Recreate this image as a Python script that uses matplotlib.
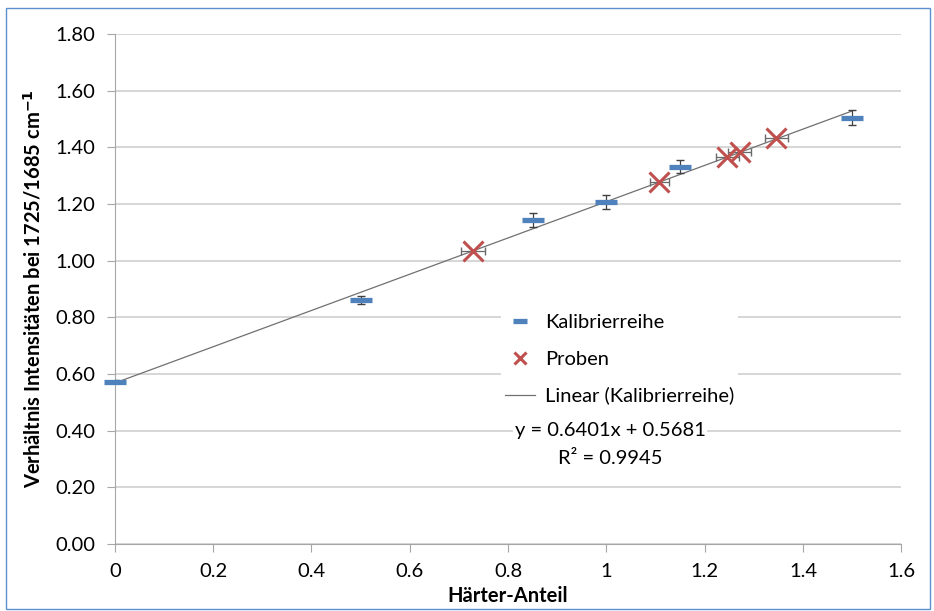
import matplotlib
matplotlib.use('Agg')
import matplotlib.pyplot as plt
import numpy as np
from matplotlib.patches import Rectangle

# Kalibrierreihe
kal_x = [0.0, 0.5, 0.85, 1.0, 1.15, 1.5]
kal_y = [0.573, 0.860, 1.144, 1.207, 1.331, 1.505]
kal_yerr = [0.005, 0.014, 0.025, 0.026, 0.023, 0.028]

# Proben
prob_x = [0.729, 1.108, 1.246, 1.271, 1.346]
prob_y = [1.034, 1.278, 1.366, 1.384, 1.433]
prob_xerr = [0.024, 0.02, 0.024, 0.024, 0.024]

slope = 0.6401
intercept = 0.5681

plt.rcParams['font.family'] = ['Lato', 'DejaVu Sans']
fs = 14.5

fig = plt.figure(figsize=(9.34, 6.11), dpi=100)
ax = fig.add_axes([0.123, 0.1097, 0.842, 0.8347])

# Rahmen um das Diagramm
fig.patches.append(Rectangle((0.006, 0.003), 0.99, 0.984, transform=fig.transFigure,
                             fill=False, edgecolor='#5b8fd0', linewidth=1.0))

ax.set_xlim(0, 1.6)
ax.set_ylim(0, 1.8)
ax.set_xticks(np.arange(0, 1.61, 0.2))
ax.set_xticklabels(['0', '0.2', '0.4', '0.6', '0.8', '1', '1.2', '1.4', '1.6'])
ax.set_yticks(np.arange(0, 1.81, 0.2))
ax.set_yticklabels(['%.2f' % v for v in np.arange(0, 1.81, 0.2)])
ax.grid(axis='y', color='#d0d0d0', linewidth=1.2)
ax.set_axisbelow(True)
for s in ['top', 'right']:
    ax.spines[s].set_visible(False)
for s in ['left', 'bottom']:
    ax.spines[s].set_color('#a6a6a6')
ax.tick_params(colors='#a6a6a6', labelcolor='black', labelsize=fs, length=6, pad=8)

# Trendlinie
tx = np.array([0.0, 1.5])
ax.plot(tx, slope * tx + intercept, color='#707070', linewidth=0.9, zorder=2,
        label='Linear (Kalibrierreihe)')

ax.errorbar(kal_x, kal_y, yerr=kal_yerr, fmt='none', ecolor='#404040', elinewidth=0.9,
            capsize=3, zorder=3)
ax.plot(kal_x, kal_y, linestyle='none', marker='_', markersize=16, markeredgewidth=3.8,
        color='#4f81bd', zorder=4, label='Kalibrierreihe', clip_on=False)

ax.errorbar(prob_x, prob_y, xerr=prob_xerr, fmt='none', ecolor='#6a6a6a', elinewidth=0.9,
            capsize=3, zorder=3)
ax.plot(prob_x, prob_y, linestyle='none', marker='x', markersize=15, markeredgewidth=2.2,
        color='#c0504d', zorder=5, label='Proben')

handles, labels = ax.get_legend_handles_labels()
order = [1, 2, 0]
leg = ax.legend([handles[i] for i in order], [labels[i] for i in order],
                loc='upper left', bbox_to_anchor=(0.478, 0.478), frameon=True,
                fontsize=fs, handlelength=1.5, handletextpad=0.5, labelspacing=0.95,
                borderpad=0.2, markerscale=0.6)
leg.get_frame().set_edgecolor('none')
leg.get_frame().set_facecolor('white')
leg.get_frame().set_alpha(1)

ax.text(0.63, 0.222, 'y = 0.6401x + 0.5681', transform=ax.transAxes, ha='center', va='center',
        fontsize=fs, bbox=dict(facecolor='white', edgecolor='none', pad=1))
ax.text(0.63, 0.168, 'R² = 0.9945', transform=ax.transAxes, ha='center', va='center',
        fontsize=fs)

ax.set_xlabel('Härter-Anteil', fontsize=fs, fontweight='bold', labelpad=4)
ax.set_ylabel('Verhältnis Intensitäten bei 1725/1685 cm$^{\\mathbf{-1}}$', fontsize=fs,
              fontweight='bold', labelpad=8)

fig.savefig('out.png', dpi=100)
